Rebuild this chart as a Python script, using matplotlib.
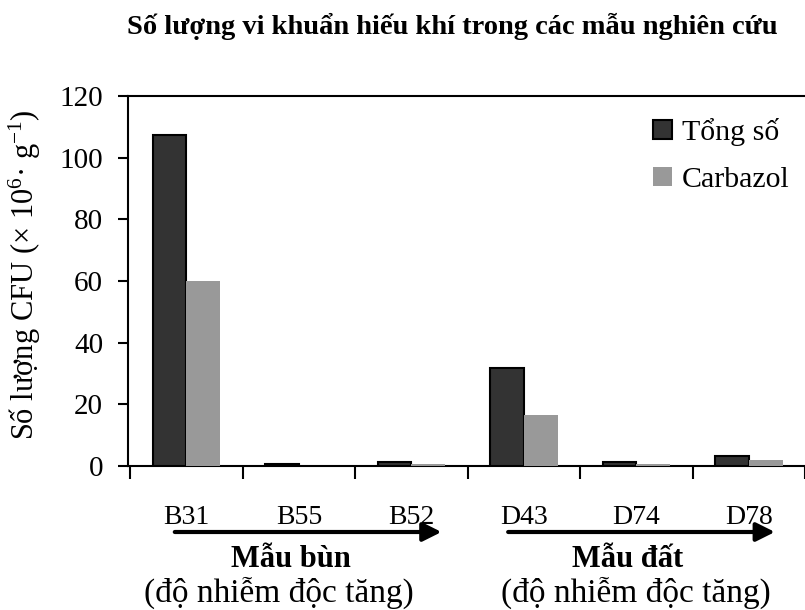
import matplotlib
matplotlib.use("Agg")
import matplotlib.pyplot as plt
import numpy as np

plt.rcParams['font.family'] = ['Liberation Serif', 'DejaVu Serif']
plt.rcParams['mathtext.fontset'] = 'custom'
plt.rcParams['mathtext.rm'] = 'Liberation Serif'
plt.rcParams['mathtext.it'] = 'Liberation Serif:italic'

categories = ['B31', 'B55', 'B52', 'D43', 'D74', 'D78']
tong_so = [107.4, 0.8, 1.3, 31.8, 1.3, 3.4]
carbazol = [60.0, 0.1, 0.6, 16.5, 0.7, 2.1]
series_names = ['Tổng số', 'Carbazol']
title = 'Số lượng vi khuẩn hiếu khí trong các mẫu nghiên cứu'
ylabel = 'Số lượng CFU (× 10$^{6}$· g$^{-1}$)'
group_names = ['Mẫu bùn', 'Mẫu đất']
group_sub = '(độ nhiễm độc tăng)'

W, H = 805, 610
AX_L, AX_B, AX_T = 128, 466, 96
CAT_W = 113.0
X0 = -0.52

def px2data(px):
    return (px - AX_L) / CAT_W + X0

def py2ax(py):
    return (AX_B - py) / (AX_B - AX_T)

fig = plt.figure(figsize=(W/100, H/100), dpi=100)
ax = fig.add_axes([AX_L/W, 1-AX_B/H, 1-AX_L/W, (AX_B-AX_T)/H])

x = np.arange(len(categories))
w = 0.3
ax.bar(x - w/2, tong_so, w, color='#333333', edgecolor='black', linewidth=1.5, label=series_names[0], zorder=3)
ax.bar(x + w/2, carbazol, w, color='#999999', edgecolor='none', label=series_names[1], zorder=3)

ax.set_xlim(X0, X0 + (W - AX_L) / CAT_W)
ax.set_ylim(0, 120)
ax.set_yticks(np.arange(0, 121, 20))
ax.tick_params(axis='y', labelsize=21, direction='out', length=7, width=1.5, pad=11)

ax.set_xticks(np.arange(-0.5, len(categories) - 0.4, 1.0))
ax.set_xticklabels([])
ax.set_xticks(x, minor=True)
ax.set_xticklabels(categories, minor=True, fontsize=20)
ax.tick_params(axis='x', which='major', direction='out', length=9, width=1.5)
ax.tick_params(axis='x', which='minor', length=0, pad=28)

for s in ['left', 'bottom', 'top']:
    ax.spines[s].set_linewidth(1.5)
ax.spines['right'].set_visible(False)

fig.text(452/W, 1-34/H, title, fontsize=20.5, fontweight='bold', ha='center', va='baseline')
fig.text(25/W, 1-275/H, ylabel, fontsize=22, rotation=90, ha='center', va='center')

leg = fig.legend(loc='upper left', bbox_to_anchor=(653/W, 1-118/H), frameon=False,
                 fontsize=21.5, handlelength=0.63, handleheight=0.63, handletextpad=0.33,
                 labelspacing=0.69, borderpad=0, borderaxespad=0)

# group arrows and labels
arrows_px = [(175, 443), (510, 778)]
name_px = [292, 630]
sub_px = [280, 638]
ya = py2ax(532)
xt = ax.get_xaxis_transform()
for (x0, x1), name, xn, xs in zip(arrows_px, group_names, name_px, sub_px):
    ax.annotate('', xy=(px2data(x1), ya), xytext=(px2data(x0), ya), xycoords=xt,
                textcoords=xt, annotation_clip=False,
                arrowprops=dict(arrowstyle='-|>', lw=3, color='black', mutation_scale=28,
                                shrinkA=0, shrinkB=0))
    ax.text(px2data(xn), py2ax(567), name, transform=xt, fontsize=22,
            fontweight='bold', ha='center', va='baseline')
    ax.text(px2data(xs), py2ax(602), group_sub, transform=xt, fontsize=24,
            ha='center', va='baseline')

fig.savefig('out.png', dpi=100)
